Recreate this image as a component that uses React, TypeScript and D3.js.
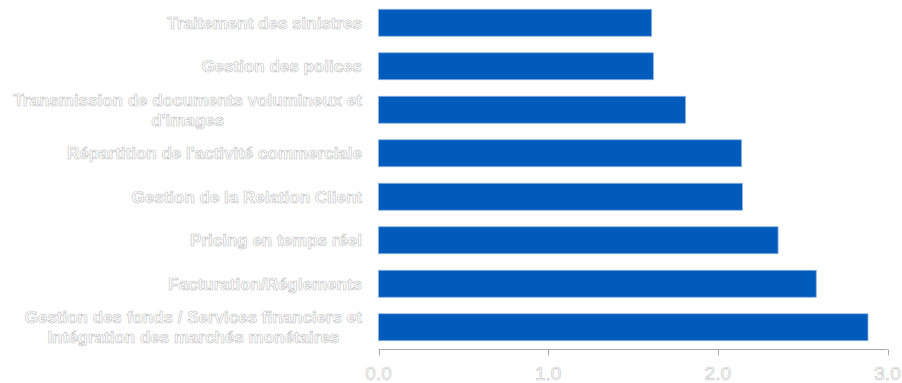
import React, { useEffect, useRef } from "react";
import * as d3 from "d3";

const categories: string[][] = [
  ["Traitement des sinistres"],
  ["Gestion des polices"],
  ["Transmission de documents volumineux et", "d'images"],
  ["Répartition de l'activité commerciale"],
  ["Gestion de la Relation Client"],
  ["Pricing en temps réel"],
  ["Facturation/Réglements"],
  ["Gestion des fonds / Services financiers et", "Intégration des marchés monétaires"],
];
const values: number[] = [1.61, 1.62, 1.81, 2.14, 2.145, 2.355, 2.58, 2.885];
const tickValues: number[] = [0, 1, 2, 3];

const W = 902;
const H = 383;

export default function App() {
  const ref = useRef<SVGSVGElement | null>(null);

  useEffect(() => {
    document.body.style.margin = "0";
    const svg = d3.select(ref.current);
    svg.selectAll("*").remove();

    const x = d3.scaleLinear().domain([0, 3]).range([378.5, 887.5]);
    const keys = categories.map((_, i) => String(i));
    const y = d3
      .scaleBand<string>()
      .domain(keys)
      .range([1, 349])
      .paddingInner(0.38)
      .paddingOuter(0.19);

    // bars
    svg
      .append("g")
      .selectAll("rect")
      .data(values)
      .join("rect")
      .attr("x", x(0))
      .attr("y", (_, i) => y(String(i))!)
      .attr("width", (d) => x(d) - x(0))
      .attr("height", y.bandwidth())
      .attr("fill", "#005BBB")
      .attr("stroke", "#8db2e2")
      .attr("stroke-width", 0.8);

    // axis
    const axisY = 349.5;
    const ax = svg.append("g");
    ax.append("line")
      .attr("x1", x(0))
      .attr("x2", x(3))
      .attr("y1", axisY)
      .attr("y2", axisY)
      .attr("stroke", "#a8a8a8")
      .attr("stroke-width", 1);
    ax.selectAll("line.tick")
      .data(tickValues)
      .join("line")
      .attr("class", "tick")
      .attr("x1", (d) => Math.round(x(d)) + 0.5)
      .attr("x2", (d) => Math.round(x(d)) + 0.5)
      .attr("y1", axisY)
      .attr("y2", axisY + 6)
      .attr("stroke", "#a8a8a8");
    ax.selectAll("text")
      .data(tickValues)
      .join("text")
      .attr("x", (d) => x(d))
      .attr("y", 380)
      .attr("text-anchor", "middle")
      .attr("font-family", "'Liberation Sans', Arial, sans-serif")
      .attr("font-size", 19)
      .attr("fill", "#ffffff")
      .attr("stroke", "#c4c4c4")
      .attr("stroke-width", 0.6)
      .text((d) => d3.format(".1f")(d));

    // category labels
    const rightEdge = 362;
    const lg = svg.append("g");
    categories.forEach((lines, i) => {
      const cy = y(String(i))! + y.bandwidth() / 2;
      const lh = 20;
      const g = lg.append("g");
      const texts = lines.map((line, j) =>
        g
          .append("text")
          .attr("y", cy + (j - (lines.length - 1) / 2) * lh)
          .attr("dy", "0.35em")
          .attr("text-anchor", "middle")
          .attr("font-family", "'Liberation Sans', Arial, sans-serif")
          .attr("font-weight", "bold")
          .attr("font-size", 17)
          .attr("fill", "#ffffff")
          .attr("stroke", "#c0c0c0")
          .attr("stroke-width", 0.6)
          .text(line)
      );
      const widths = texts.map((t) => (t.node() as SVGTextElement).getComputedTextLength());
      const maxW = Math.max(...widths);
      texts.forEach((t) => t.attr("x", rightEdge - maxW / 2));
    });
  }, []);

  return (
    <div style={{ position: "absolute", left: 0, top: 0 }}>
      <svg ref={ref} width={W} height={H} style={{ display: "block", background: "#fff" }} />
    </div>
  );
}
